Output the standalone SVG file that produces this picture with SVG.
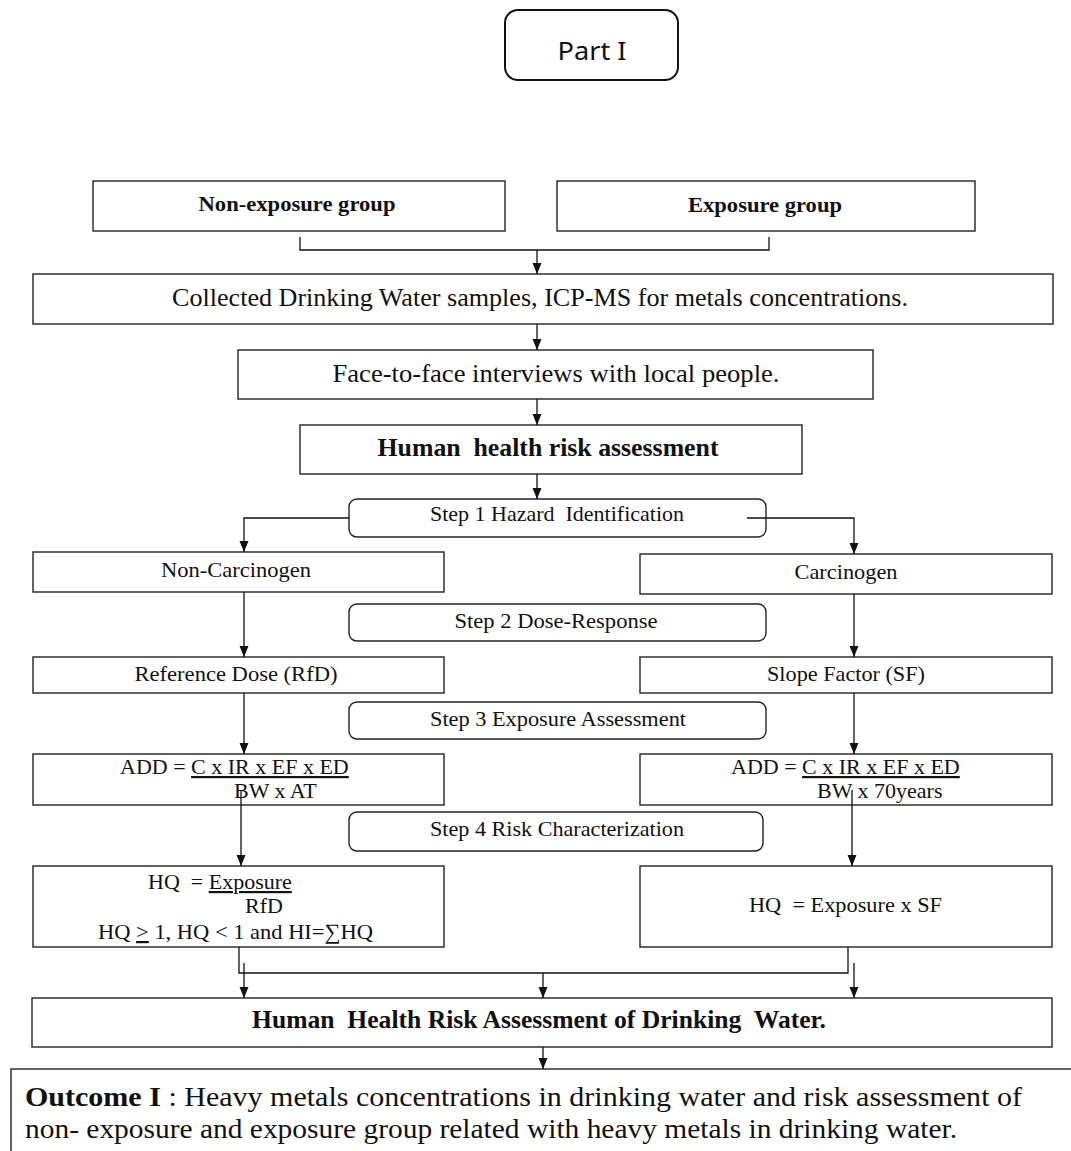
<svg xmlns="http://www.w3.org/2000/svg" width="1071" height="1151" viewBox="0 0 1071 1151">
<defs>
<marker id="ah" markerWidth="12" markerHeight="12" refX="11" refY="5.5" orient="auto" markerUnits="userSpaceOnUse">
<path d="M0,1 L11,5.5 L0,10 Z" fill="#111"/>
</marker>
<style>
.box{fill:#fff;stroke:#222;stroke-width:1.4}
.step{fill:#fff;stroke:#222;stroke-width:1.4}
.t{font-family:"Liberation Serif","Times New Roman",serif;fill:#111}
.s22{font-size:22px}
.s26{font-size:26px}
.b{font-weight:bold}
.c{text-anchor:middle}
.ln{fill:none;stroke:#111;stroke-width:1.3}
.ar{fill:none;stroke:#111;stroke-width:1.3;marker-end:url(#ah)}
</style>
</defs>
<rect width="1071" height="1151" fill="#fff"/>

<g id="part1">
<rect x="505" y="10" width="173" height="70" rx="13" fill="#fff" stroke="#111" stroke-width="2"/>
<text x="592" y="60" font-family="'Noto Sans','Open Sans',sans-serif" font-size="26" text-anchor="middle" fill="#111" textLength="69" lengthAdjust="spacingAndGlyphs">Part I</text>
</g>

<g id="n-nonexposure">
<rect class="box" x="93" y="181" width="412" height="50"/>
<text class="t s22 b c" x="297" y="211" textLength="197" lengthAdjust="spacingAndGlyphs">Non-exposure group</text>
</g>
<g id="n-exposure">
<rect class="box" x="557" y="181" width="418" height="50"/>
<text class="t s22 b c" x="765" y="212" textLength="154" lengthAdjust="spacingAndGlyphs">Exposure group</text>
</g>
<g id="n-collected">
<rect class="box" x="33" y="274" width="1020" height="50"/>
<text class="t s26 c" x="540" y="306" textLength="736" lengthAdjust="spacingAndGlyphs">Collected Drinking Water samples, ICP-MS for metals concentrations.</text>
</g>
<g id="n-interviews">
<rect class="box" x="238" y="350" width="635" height="49"/>
<text class="t s26 c" x="556" y="382" textLength="447" lengthAdjust="spacingAndGlyphs">Face-to-face interviews with local people.</text>
</g>
<g id="n-hhra">
<rect class="box" x="300" y="425" width="502" height="49"/>
<text class="t s26 b c" x="548" y="456" textLength="341" lengthAdjust="spacingAndGlyphs" xml:space="preserve">Human  health risk assessment</text>
</g>
<g id="n-step1">
<rect class="step" x="349" y="499" width="417" height="38" rx="8"/>
<text class="t s22 c" x="557" y="521" textLength="254" lengthAdjust="spacingAndGlyphs" xml:space="preserve">Step 1 Hazard  Identification</text>
</g>
<g id="n-noncarc">
<rect class="box" x="33" y="552" width="411" height="40"/>
<text class="t s22 c" x="236" y="577" textLength="150" lengthAdjust="spacingAndGlyphs">Non-Carcinogen</text>
</g>
<g id="n-carc">
<rect class="box" x="640" y="554" width="412" height="40"/>
<text class="t s22 c" x="846" y="579" textLength="103" lengthAdjust="spacingAndGlyphs">Carcinogen</text>
</g>
<g id="n-step2">
<rect class="step" x="349" y="604" width="417" height="37" rx="8"/>
<text class="t s22 c" x="556" y="628" textLength="203" lengthAdjust="spacingAndGlyphs">Step 2 Dose-Response</text>
</g>
<g id="n-rfd">
<rect class="box" x="33" y="657" width="411" height="36"/>
<text class="t s22 c" x="236" y="681" textLength="203" lengthAdjust="spacingAndGlyphs">Reference Dose (RfD)</text>
</g>
<g id="n-sf">
<rect class="box" x="640" y="657" width="412" height="36"/>
<text class="t s22 c" x="846" y="681" textLength="158" lengthAdjust="spacingAndGlyphs">Slope Factor (SF)</text>
</g>
<g id="n-step3">
<rect class="step" x="349" y="702" width="417" height="37" rx="8"/>
<text class="t s22 c" x="558" y="726" textLength="256" lengthAdjust="spacingAndGlyphs">Step 3 Exposure Assessment</text>
</g>
<g id="n-add-left">
<rect class="box" x="33" y="754" width="411" height="51"/>
<text class="t s22" x="120" y="774">ADD = <tspan text-decoration="underline">C x IR x EF x ED</tspan></text>
<text class="t s22" x="234" y="798">BW x AT</text>
</g>
<g id="n-add-right">
<rect class="box" x="640" y="754" width="412" height="51"/>
<text class="t s22" x="731" y="774">ADD = <tspan text-decoration="underline">C x IR x EF x ED</tspan></text>
<text class="t s22" x="817" y="798">BW x 70years</text>
</g>
<g id="n-step4">
<rect class="step" x="349" y="812" width="414" height="39" rx="8"/>
<text class="t s22 c" x="557" y="836" textLength="254" lengthAdjust="spacingAndGlyphs">Step 4 Risk Characterization</text>
</g>
<g id="n-hq-left">
<rect class="box" x="33" y="866" width="411" height="81"/>
<text class="t s22" x="148" y="889" xml:space="preserve">HQ  = <tspan text-decoration="underline">Exposure</tspan></text>
<text class="t s22" x="245" y="913">RfD</text>
<text class="t s22" x="98" y="939" textLength="275" lengthAdjust="spacingAndGlyphs">HQ <tspan text-decoration="underline">&gt;</tspan> 1, HQ &lt; 1 and HI=∑HQ</text>
</g>
<g id="n-hq-right">
<rect class="box" x="640" y="866" width="412" height="81"/>
<text class="t s22" x="749" y="912" textLength="193" lengthAdjust="spacingAndGlyphs" xml:space="preserve">HQ  = Exposure x SF</text>
</g>
<g id="n-hhra-dw">
<rect class="box" x="32" y="998" width="1020" height="49"/>
<text class="t s26 b c" x="539" y="1028" textLength="574" lengthAdjust="spacingAndGlyphs" xml:space="preserve">Human  Health Risk Assessment of Drinking  Water.</text>
</g>
<g id="n-outcome">
<rect x="11" y="1069" width="1090" height="100" fill="#fff" stroke="#222" stroke-width="1.4"/>
<text class="t" font-size="28" x="25" y="1106" textLength="997" lengthAdjust="spacingAndGlyphs"><tspan font-weight="bold">Outcome I</tspan> : Heavy metals  concentrations in drinking water and risk assessment of</text>
<text class="t" font-size="28" x="25" y="1138" textLength="932" lengthAdjust="spacingAndGlyphs">non- exposure and exposure group related with heavy metals in drinking water.</text>
</g>

<g id="connectors">
<polyline class="ln" points="300,237 300,250 769,250 769,237"/>
<line class="ar" x1="537" y1="250" x2="537" y2="274"/>
<line class="ar" x1="537" y1="324" x2="537" y2="350"/>
<line class="ar" x1="537" y1="399" x2="537" y2="425"/>
<line class="ar" x1="537" y1="474" x2="537" y2="499"/>
<polyline class="ar" points="349,518 244,518 244,552"/>
<polyline class="ar" points="747,518 854,518 854,554"/>
<line class="ar" x1="244" y1="592" x2="244" y2="657"/>
<line class="ar" x1="854" y1="594" x2="854" y2="657"/>
<line class="ar" x1="244" y1="693" x2="244" y2="754"/>
<line class="ar" x1="854" y1="693" x2="854" y2="754"/>
<line class="ar" x1="241" y1="790" x2="241" y2="866"/>
<line class="ar" x1="852" y1="790" x2="852" y2="866"/>
<polyline class="ln" points="239,947 239,973 848,973 848,947"/>
<line class="ar" x1="244" y1="963" x2="244" y2="998"/>
<line class="ar" x1="543" y1="973" x2="543" y2="998"/>
<line class="ar" x1="854" y1="963" x2="854" y2="998"/>
<line class="ar" x1="543" y1="1047" x2="543" y2="1069"/>
</g>
</svg>
